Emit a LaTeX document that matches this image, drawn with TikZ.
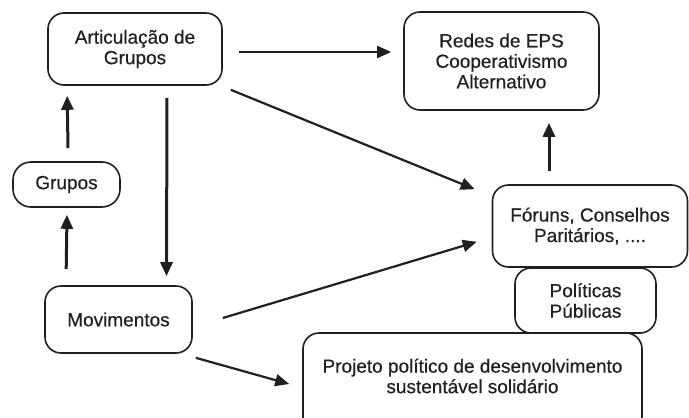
\documentclass[tikz,border=0pt]{standalone}
\usepackage{fontspec}
\setmainfont[FakeBold=0.5]{Liberation Sans}
\usetikzlibrary{calc,arrows.meta}
\definecolor{ink}{HTML}{231F20}
\begin{document}
\begin{tikzpicture}[x=1pt,y=-1pt,
  txt/.style={font=\fontsize{19}{20.5}\selectfont,text=ink,align=center},
  box/.style={txt,draw=ink,line width=1.6pt,rounded corners=16pt,inner sep=0pt},
  conn/.style={draw=ink,line width=2.2pt,-{Triangle[length=14pt,width=12pt]}},
  thick conn/.style={conn,line width=3pt}]
\useasboundingbox (0,0) rectangle (689,418);
\clip (0,0) rectangle (689,418);
\node[box,minimum width=174pt,minimum height=72pt] (art) at (135,49) {Articulação de\\Grupos};
\node[box,minimum width=195pt,minimum height=98pt] (redes) at (501.5,61) {Redes de EPS\\Cooperativismo\\Alternativo};
\node[box,minimum width=107pt,minimum height=45pt,rounded corners=18pt] (grupos) at (66.5,184.5) {Grupos};
\node[box,minimum width=147pt,minimum height=67pt] (mov) at (118.5,319.5) {Movimentos};
\node[box,minimum width=195pt,minimum height=82pt] (foruns) at (590,226) {Fóruns, Conselhos\\Paritários, ....};
\node[box,minimum width=141pt,minimum height=65pt] (pol) at (585.5,300.5) {Políticas\\Públicas};
\node[box,minimum width=339pt,minimum height=100pt] (proj) at (472.5,383) {};
\node[txt] (projtxt) at (472.5,376) {Projeto político de desenvolvimento\\sustentável solidário};
% connectors
\draw[conn] ($(art.east)+(16,3)$) -- ($(redes.west)+(-12,-9)$);
\draw[conn] ($(art.south east)+(8,4)$) -- ($(foruns.north west)+(-17,5)$);
\draw[thick conn] ($(art.south)+(32,12)$) -- ($(mov.north)+(48,-9)$);
\draw[thick conn] ($(grupos.north)+(1.5,-13)$) -- ($(art.south west)+(20,10)$);
\draw[thick conn] ($(mov.north west)+(22,-16)$) -- ($(grupos.south)+(0.5,7)$);
\draw[conn] ($(mov.east)+(30,-1.5)$) -- ($(foruns.south west)+(-15,-26)$);
\draw[conn] ($(mov.south east)+(3,4)$) -- ($(proj.west)+(-13,1)$);
\draw[thick conn] ($(foruns.north)+(-41,-13)$) -- ($(redes.south)+(47.5,12)$);
\end{tikzpicture}
\end{document}
